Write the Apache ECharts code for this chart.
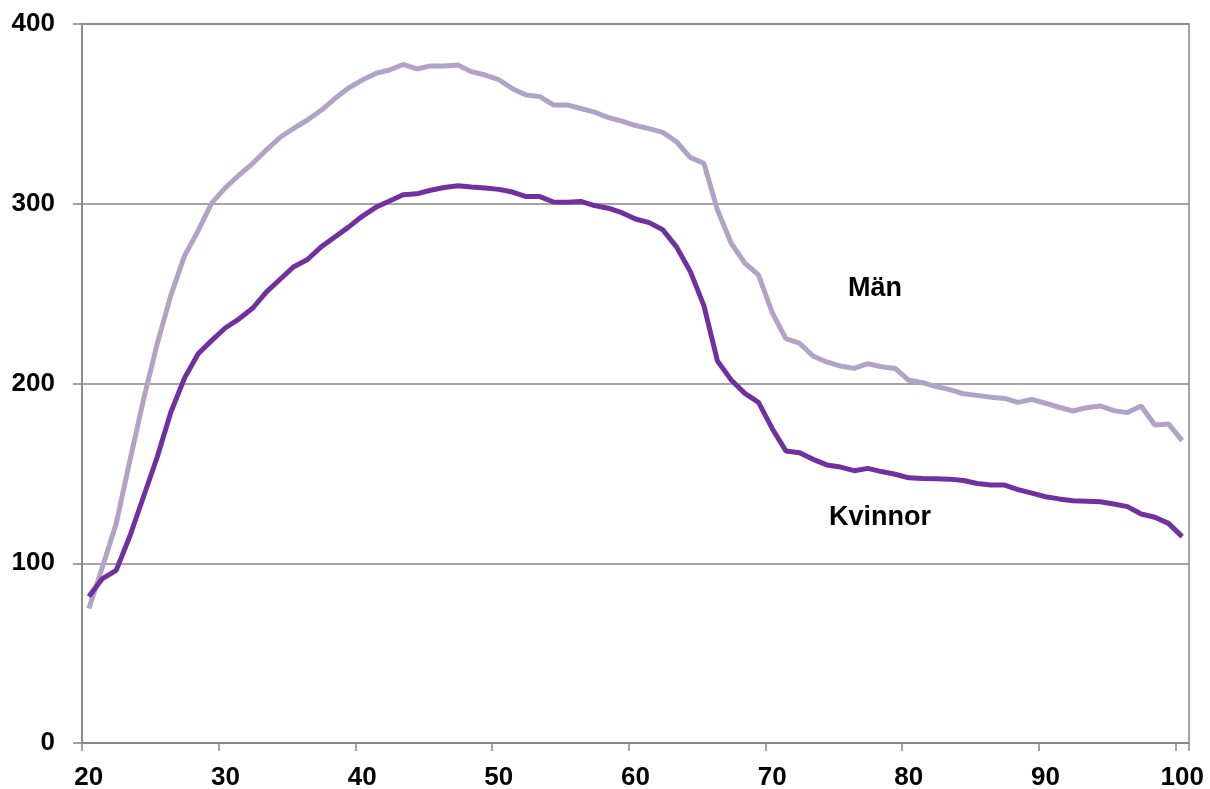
<!DOCTYPE html>
<html>
<head>
<meta charset="utf-8">
<script src="https://cdn.jsdelivr.net/npm/echarts@6/dist/echarts.min.js"></script>
<style>
  html, body { margin: 0; padding: 0; background: #fff; }
  #chart { width: 1210px; height: 789px; }
</style>
</head>
<body>
<div id="chart"></div>
<script>
// ages 20..100
const ages = [];
for (let a = 20; a <= 100; a++) ages.push(String(a));

const man = [
  74.8, 98, 122, 157, 191, 222, 249, 271, 285, 300.5,
  309, 316, 322.5, 330, 337, 342, 346.6, 352, 358.5, 364.4,
  368.8, 372.5, 374.4, 377.5, 375, 376.7, 376.6, 377.2, 373.5, 371.6,
  369, 364, 360.5, 359.6, 355, 355, 353, 351, 348, 346,
  343.5, 341.8, 339.7, 334.5, 325.8, 322.5, 296.5, 278, 267, 260.4,
  239.5, 225, 222.4, 215.2, 212, 209.7, 208.4, 211, 209.3, 208.4,
  201.8, 200.5, 198.3, 196.6, 194.3, 193.4, 192.3, 191.7, 189.5, 191.2,
  189, 186.8, 184.7, 186.5, 187.5, 184.9, 183.8, 187.5, 176.9, 177.5,
  168.2
];

const kvinnor = [
  81.5, 91.5, 96, 115, 137, 159, 184, 203, 216.5, 224,
  231, 236, 242, 251, 258, 265, 269, 276, 281.5, 287,
  293, 298, 301.5, 305, 305.5, 307.5, 309, 310, 309.3, 308.8,
  308, 306.5, 304, 304, 301, 300.8, 301.3, 299, 297.5, 295,
  291.5, 289.5, 285.5, 276, 262.5, 243.5, 212.5, 202, 194.5, 189.5,
  175, 162.5, 161.5, 157.8, 154.7, 153.5, 151.5, 152.8, 151, 149.5,
  147.5, 147.2, 147, 146.8, 146, 144.4, 143.5, 143.5, 141, 139,
  137, 135.8, 134.8, 134.5, 134.2, 133, 131.5, 127.4, 125.6, 122.2,
  114.8
];

const GRAY = '#868686';
const FONT = '"Liberation Sans", Arial, sans-serif';

const chart = echarts.init(document.getElementById('chart'));
chart.setOption({
  animation: false,
  grid: {
    left: 82, right: 21, top: 24, bottom: 46,
    outerBoundsMode: 'none',
    show: true, borderColor: GRAY, borderWidth: 1.5
  },
  xAxis: {
    type: 'category',
    data: ages,
    boundaryGap: true,
    axisLine: { lineStyle: { color: GRAY, width: 1.5 } },
    axisTick: {
      show: true, alignWithLabel: false, interval: 9, length: 8,
      lineStyle: { color: GRAY, width: 1.5 }
    },
    axisLabel: {
      interval: 9, margin: 22,
      color: '#000', fontFamily: FONT, fontWeight: 'bold', fontSize: 26
    },
    splitLine: { show: false }
  },
  yAxis: {
    type: 'value',
    min: 0, max: 400, interval: 100,
    axisLine: { show: true, lineStyle: { color: GRAY, width: 1.5 } },
    axisTick: { show: true, length: 9, lineStyle: { color: GRAY, width: 1.5 } },
    axisLabel: {
      margin: 27,
      color: '#000', fontFamily: FONT, fontWeight: 'bold', fontSize: 26
    },
    splitLine: { lineStyle: { color: GRAY, width: 1.5 } }
  },
  series: [
    {
      name: 'Män', type: 'line', data: man,
      symbol: 'none', lineStyle: { color: '#B3A2C7', width: 5 }
    },
    {
      name: 'Kvinnor', type: 'line', data: kvinnor,
      symbol: 'none', lineStyle: { color: '#7030A0', width: 5 }
    }
  ],
  graphic: [
    {
      type: 'text', x: 875, y: 289,
      style: {
        text: 'Män', fill: '#000', font: 'bold 27px ' + FONT,
        align: 'center', verticalAlign: 'middle'
      }
    },
    {
      type: 'text', x: 880, y: 518,
      style: {
        text: 'Kvinnor', fill: '#000', font: 'bold 27px ' + FONT,
        align: 'center', verticalAlign: 'middle'
      }
    }
  ]
});
</script>
</body>
</html>
